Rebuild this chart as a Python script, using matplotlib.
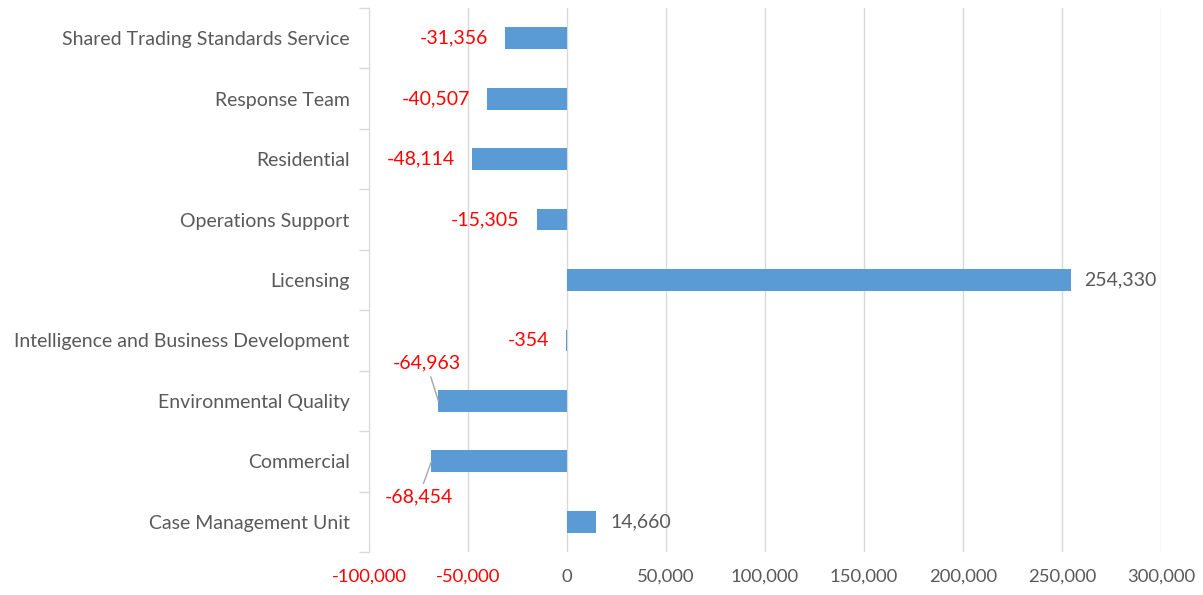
import matplotlib
matplotlib.use('Agg')
import matplotlib.pyplot as plt
from matplotlib.ticker import FuncFormatter, FixedLocator

categories = ['Case Management Unit', 'Commercial', 'Environmental Quality',
              'Intelligence and Business Development', 'Licensing',
              'Operations Support', 'Residential', 'Response Team',
              'Shared Trading Standards Service']
values = [14660, -68454, -64963, -354, 254330, -15305, -48114, -40507, -31356]
xticks = [-100000, -50000, 0, 50000, 100000, 150000, 200000, 250000, 300000]

bar_color = '#5B9BD5'
red = '#FF0000'
gray = '#595959'
grid = '#D9D9D9'

plt.rcParams['font.family'] = ['Lato', 'DejaVu Sans']

fig = plt.figure(figsize=(12.03, 5.95), dpi=100)
ax = fig.add_axes([369 / 1203, 1 - 552 / 595, (1161 - 369) / 1203, 544 / 595])

y = list(range(len(categories)))
ax.barh(y, values, height=0.36, color=bar_color, linewidth=0, zorder=3)

ax.set_xlim(-100000, 300000)
ax.set_ylim(-0.5, len(categories) - 0.5)
ax.set_xticks(xticks)
ax.xaxis.set_major_formatter(FuncFormatter(lambda v, p: f'{int(v):,}'))
ax.grid(axis='x', color=grid, linewidth=1, zorder=0)
ax.tick_params(axis='x', length=0, pad=12, labelsize=13.3, labelcolor=gray)
for lbl, v in zip(ax.get_xticklabels(), xticks):
    if v < 0:
        lbl.set_color(red)

ax.set_yticks(y)
ax.set_yticklabels(categories)
ax.tick_params(axis='y', which='major', length=0, pad=14, labelsize=14, labelcolor=gray)
ax.yaxis.set_minor_locator(FixedLocator([i - 0.5 for i in range(len(categories) + 1)]))
ax.tick_params(axis='y', which='minor', length=7, color=grid, width=1)

for s in ['top', 'right', 'bottom']:
    ax.spines[s].set_visible(False)
ax.spines['left'].set_color(grid)

# data labels
fs = 14
for i, v in enumerate(values):
    name = categories[i]
    if name == 'Environmental Quality':
        ax.annotate(f'{v:,}', xy=(v, i), xytext=(-12, 38), textcoords='offset pixels',
                    ha='center', va='center', color=red, fontsize=fs,
                    arrowprops=dict(arrowstyle='-', color='#A6A6A6', lw=1, shrinkA=2, shrinkB=0))
    elif name == 'Commercial':
        ax.annotate(f'{v:,}', xy=(v, i), xytext=(-13, -36), textcoords='offset pixels',
                    ha='center', va='center', color=red, fontsize=fs,
                    arrowprops=dict(arrowstyle='-', color='#A6A6A6', lw=1, shrinkA=2, shrinkB=0))
    elif v < 0:
        ax.annotate(f'{v:,}', xy=(v, i), xytext=(-17, 0), textcoords='offset pixels',
                    ha='right', va='center', color=red, fontsize=fs)
    else:
        ax.annotate(f'{v:,}', xy=(v, i), xytext=(14, 0), textcoords='offset pixels',
                    ha='left', va='center', color=gray, fontsize=fs)

fig.savefig('out.png', dpi=100)
